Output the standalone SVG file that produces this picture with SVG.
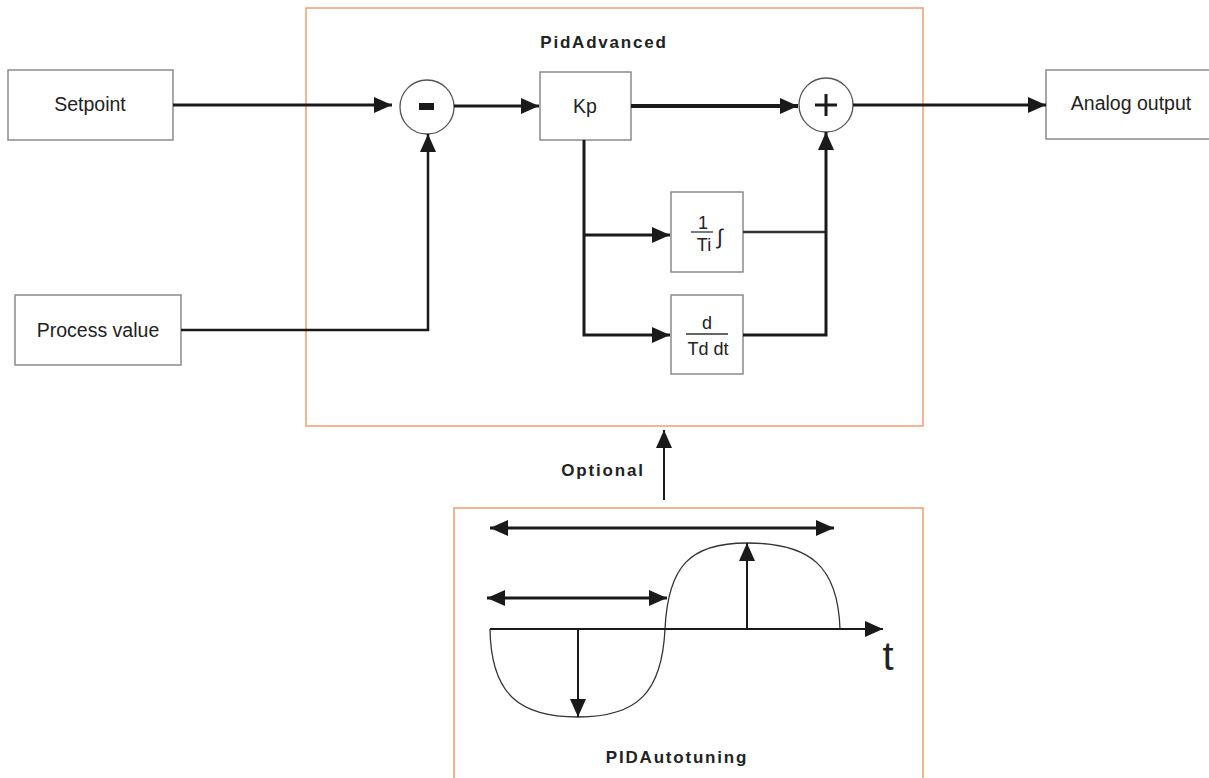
<svg xmlns="http://www.w3.org/2000/svg" width="1209" height="778" viewBox="0 0 1209 778">
<style>
.box{fill:#fff;stroke:#8a8a8a;stroke-width:1.5}
.frame{fill:none;stroke:#f6a276;stroke-width:1.6}
.lbl{font-family:"Liberation Sans",Arial,sans-serif;font-size:19.5px;fill:#222;text-anchor:middle}
.ttl{font-family:"Liberation Sans",Arial,sans-serif;font-size:17px;font-weight:bold;fill:#222;text-anchor:middle;letter-spacing:1.8px}
.frac{font-family:"Liberation Sans",Arial,sans-serif;font-size:18px;fill:#222;text-anchor:middle}
.ln{fill:none;stroke:#1a1a1a;stroke-width:3}
.thin{fill:none;stroke:#1a1a1a;stroke-width:2}
.wave{fill:none;stroke:#333;stroke-width:1.3}
</style>
<defs>
<marker id="ah" markerUnits="userSpaceOnUse" markerWidth="20" markerHeight="18" refX="18" refY="9" orient="auto-start-reverse">
<path d="M0,1 L18,9 L0,17 Z" fill="#1a1a1a"/>
</marker>
</defs>
<rect width="1209" height="778" fill="#fff"/>

<g id="pidadvanced">
<rect class="frame" x="306" y="8" width="617" height="418"/>
<text class="ttl" x="604" y="48">PidAdvanced</text>
</g>
<g id="setpoint">
<rect class="box" x="8" y="70" width="165" height="70"/>
<text class="lbl" x="90" y="111">Setpoint</text>
</g>
<g id="process-value">
<rect class="box" x="15" y="295" width="166" height="70"/>
<text class="lbl" x="98" y="337">Process value</text>
</g>
<g id="analog-output">
<rect class="box" x="1046" y="70" width="170" height="69"/>
<text class="lbl" x="1131" y="110">Analog output</text>
</g>
<g id="minus">
<circle cx="427" cy="107" r="27" fill="#fff" stroke="#555" stroke-width="1.3"/>
<rect x="419" y="103" width="15" height="7" fill="#1a1a1a"/>
</g>
<g id="kp">
<rect class="box" x="540" y="72" width="91" height="68"/>
<text class="lbl" x="585" y="113">Kp</text>
</g>
<g id="plus">
<circle cx="826" cy="105" r="27" fill="#fff" stroke="#555" stroke-width="1.3"/>
<path d="M826,94 V116 M815,105 H837" stroke="#1a1a1a" stroke-width="3"/>
</g>
<g id="integral">
<rect class="box" x="671" y="192" width="72" height="80"/>
<text class="frac" x="703" y="229">1</text>
<line x1="691" y1="232" x2="713" y2="232" stroke="#333" stroke-width="1.3"/>
<text class="frac" x="704" y="251">Ti</text>
<text class="frac" x="720" y="244" style="font-size:21px">∫</text>
</g>
<g id="derivative">
<rect class="box" x="671" y="295" width="72" height="79"/>
<text class="frac" x="707" y="329">d</text>
<line x1="686" y1="334" x2="728" y2="334" stroke="#333" stroke-width="1.3"/>
<text class="frac" x="708" y="355">Td dt</text>
</g>
<g id="pidautotuning">
<rect class="frame" x="454" y="508" width="469" height="290" style="stroke:#f4a070"/>
<path class="wave" d="M490,629 C491,695 520,717 578,717 C638,717 662,692 665,629 C668,566 690,543 747,543 C810,543 838,566 840,629"/>
<path class="thin" d="M490,629 H883" marker-end="url(#ah)"/>
<path class="thin" d="M578,629 V717" marker-end="url(#ah)"/>
<path class="thin" d="M747,629 V543" marker-end="url(#ah)"/>
<path class="ln" d="M490,528 H834" marker-start="url(#ah)" marker-end="url(#ah)"/>
<path class="ln" d="M487,598 H667" marker-start="url(#ah)" marker-end="url(#ah)"/>
<text x="888" y="670" style="font-family:'Liberation Sans',Arial,sans-serif;font-size:40px;fill:#222" text-anchor="middle">t</text>
<text class="ttl" x="677" y="763">PIDAutotuning</text>
</g>
<g id="connectors">
<path class="ln" d="M173,105 H392" marker-end="url(#ah)"/>
<path class="ln" d="M454,106 H539" marker-end="url(#ah)"/>
<path class="ln" d="M631,106 H798" style="stroke-width:4" marker-end="url(#ah)"/>
<path class="ln" d="M853,105 H1046" marker-end="url(#ah)"/>
<path class="ln" d="M181,330 H428 V134" style="stroke-width:2.5" marker-end="url(#ah)"/>
<path class="ln" d="M584,140 V335 H670" marker-end="url(#ah)"/>
<path class="ln" d="M584,235 H670" marker-end="url(#ah)"/>
<path class="ln" d="M743,232 H826" style="stroke-width:2.5;stroke:#333"/>
<path class="ln" d="M743,335 H826 V132" marker-end="url(#ah)"/>
<path class="thin" d="M664,500 V430" marker-end="url(#ah)"/>
<text class="ttl" x="603" y="476">Optional</text>
</g>
</svg>
